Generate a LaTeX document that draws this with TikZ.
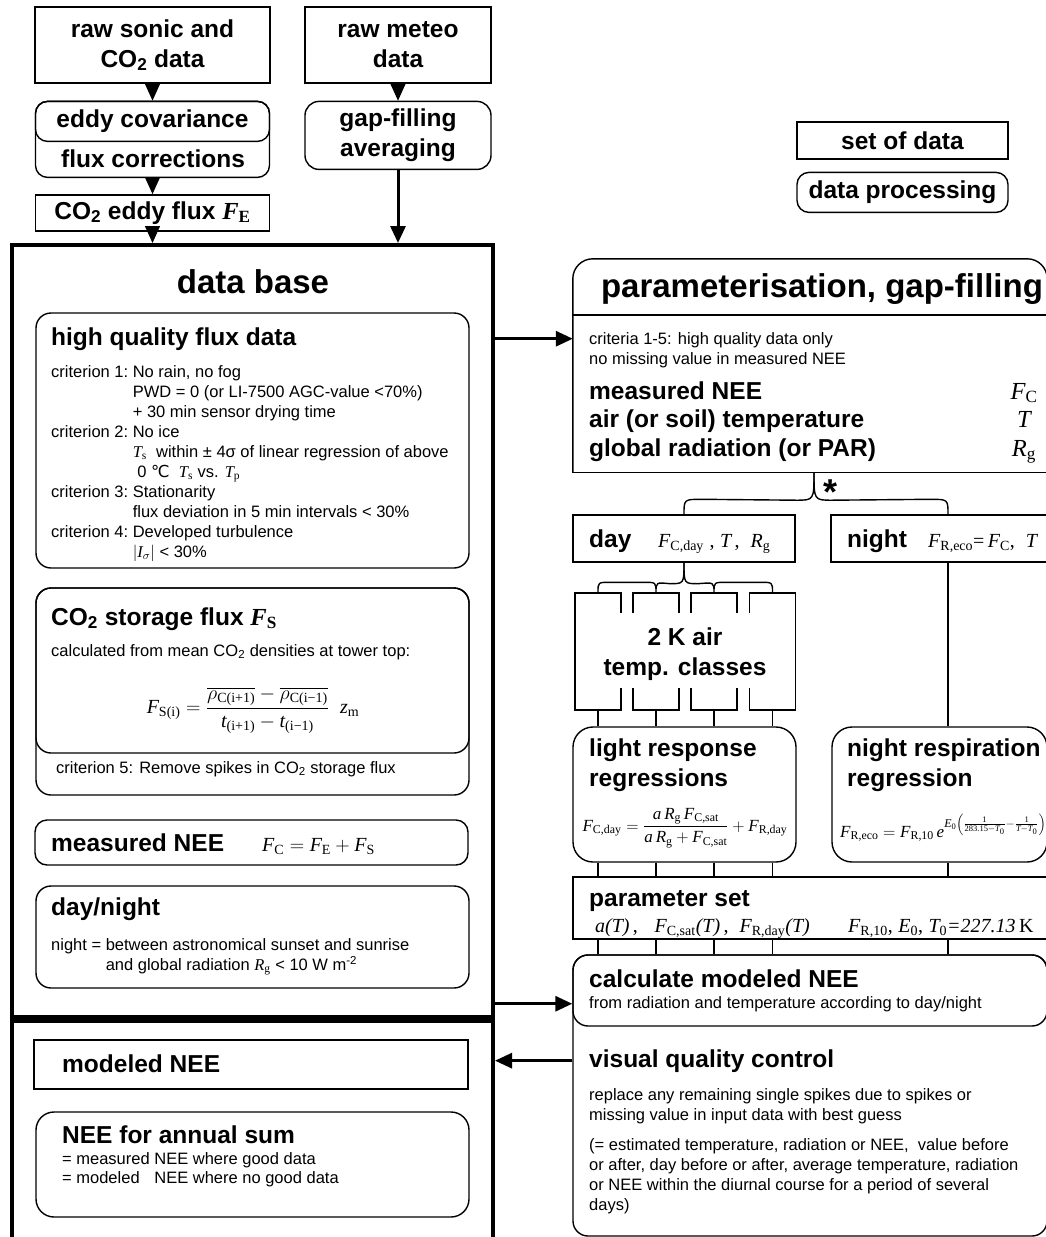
\RequirePackage{fix-cm}
\documentclass[tikz,border=0pt]{standalone}
\usepackage{amsmath}
\usepackage[no-math]{fontspec}
\setmainfont{Liberation Sans}
\newfontfamily\tms{Liberation Serif}
\newfontfamily\djv{DejaVu Sans}
\newcommand{\tmi}[1]{\text{\tms\itshape #1}}
\newcommand{\tmr}[1]{\text{\tms\upshape #1}}
\newcommand{\Fx}[1]{\tmi{F}_{\tmr{#1}}}
\usetikzlibrary{positioning, calc, arrows.meta}

\begin{document}
\begin{tikzpicture}[x=1pt, y=-1pt,
		dset/.style={draw, line width=1.4pt, inner sep=0pt},
		dproc/.style={dset, rounded corners=#1},
		dproc/.default=12pt,
		conn/.style={line width=1.4pt},
		arr/.style={conn, -{Triangle[length=17pt, width=15pt]}},
		bigarr/.style={arr, line width=3pt},
		ttl/.style={font=\fontsize{33}{36}\selectfont\bfseries, inner sep=0pt},
		hd/.style={font=\fontsize{24.5}{30}\selectfont\bfseries, inner sep=0pt},
		txt/.style={font=\fontsize{16.5}{20}\selectfont, inner sep=0pt},
		eq/.style={font=\fontsize{20}{24}\selectfont, inner sep=0pt}
		]
		\useasboundingbox (0,0) rectangle (1046,1237);
		
		% raw data
		\node[dset, hd, minimum width=235pt, minimum height=76pt, align=center] (rawsonic) at (152.5,45) {raw sonic and\\CO\textsubscript{2} data};
		\node[dproc, minimum width=234pt, minimum height=76pt, below=17pt of rawsonic] (corr) {};
		\node[dproc, hd, minimum width=234pt, minimum height=40pt, anchor=north] (eddy) at (corr.north) {eddy covariance};
		\node[hd, anchor=base] (corrtxt) at (153,167) {flux corrections};
		\node[dset, hd, minimum width=234pt, minimum height=36pt, below=16pt of corr] (fluxE) {CO\textsubscript{2} eddy flux {\tms\itshape F}\textsubscript{\tms E}};
		
		\node[dset, hd, minimum width=186pt, minimum height=76pt, align=center] (rawmeteo) at (398,45) {raw meteo\\data};
		\node[dproc=14pt, hd, minimum width=186pt, minimum height=68pt, align=center, below=17pt of rawmeteo] (gapfill) {gap-filling\\averaging};
		
		% legend
		\node[dset, hd, minimum width=211pt, minimum height=37pt] (setdata) at (902.5,140.5) {set of data};
		\node[dproc, hd, minimum width=211pt, minimum height=40pt, below=12pt of setdata] (dataproc) {data processing};
		
		% data base
		\node[dset, line width=4pt, minimum width=481pt, minimum height=772pt] (database) at (252.5,631) {};
		\node[dset, line width=4pt, minimum width=481pt, minimum height=253pt, below=0pt of database] (results) {};
		\node[ttl, anchor=base] (dbtitle) at (253,293) {data base};
		
		\node[dproc=15pt, minimum width=433pt, minimum height=255pt] (hq) at (252.5,440.5) {};
		\node[hd, anchor=base west] (hqtitle) at (51,345) {high quality flux data};
		\node[txt, anchor=base west] (hqcrit) at (51,377) {\begin{tabular}[t]{@{}l@{\ }l@{}}
				criterion 1: & No rain, no fog\\
				& PWD = 0 (or LI-7500 AGC-value <70\%)\\
				& + 30 min sensor drying time\\
				criterion 2: & No ice\\
				& $\tmi{T}_{\tmr{s}}$\ \ within ± 4σ of linear regression of above\\
				& \ 0 {\djv ℃}\ \ $\tmi{T}_{\tmr{s}}$ vs. $\tmi{T}_{\tmr{p}}$\\
				criterion 3: & Stationarity\\
				& flux deviation in 5 min intervals < 30\%\\
				criterion 4: & Developed turbulence\\
				& $|\tmi{I}_{\sigma}|$ < 30\%
		\end{tabular}};
		
		\node[dproc=15pt, minimum width=433pt, minimum height=207pt] (stor5) at (252.5,691.5) {};
		\node[dproc=15pt, minimum width=433pt, minimum height=165pt, anchor=north] (storage) at (stor5.north) {};
		\node[hd, anchor=base west] (stortitle) at (51,625) {CO\textsubscript{2} storage flux {\tms\itshape F}\textsubscript{\tms S}};
		\node[txt, anchor=base west] (storcalc) at (51,656) {calculated from mean CO\textsubscript{2} densities at tower top:};
		\node[eq] (storeq) at (253,710) {$\Fx{S(i)} = \dfrac{\overline{\rho_{\tmr{C(i+1)}}} - \overline{\rho_{\tmr{C(i−1)}}}}{\tmi{t}_{\tmr{(i+1)}} - \tmi{t}_{\tmr{(i−1)}}}\ \ \tmi{z}_{\tmr{m}}$};
		\node[txt, anchor=base west] (crit5) at (56,773) {criterion 5: Remove spikes in CO\textsubscript{2} storage flux};
		
		\node[dproc, minimum width=433pt, minimum height=45pt] (meas) at (251.5,842.5) {};
		\node[hd, anchor=base west] (meastitle) at (51,851) {measured NEE};
		\node[eq, anchor=base west] (measeq) at (262,851) {$\Fx{C} = \Fx{E} + \Fx{S}$};
		
		\node[dproc=15pt, minimum width=433pt, minimum height=102pt] (daynight) at (252.5,937) {};
		\node[hd, anchor=base west] (dntitle) at (51,915) {day/night};
		\node[txt, anchor=base west] (dnbody) at (51,950) {\begin{tabular}[t]{@{}l@{\ }l@{}}
				night = & between astronomical sunset and sunrise\\
				& and global radiation $\tmi{R}_{\tmr{g}}$ < 10 W m\textsuperscript{-2}
		\end{tabular}};
		
		% results
		\node[dset, minimum width=434pt, minimum height=49pt] (modeled) at (251,1064.5) {};
		\node[hd, anchor=base west] (modtitle) at (62,1072) {modeled NEE};
		\node[dproc=18pt, minimum width=433pt, minimum height=105pt] (annual) at (252.5,1164.5) {};
		\node[hd, anchor=base west] (anntitle) at (62,1143) {NEE for annual sum};
		\node[txt, font=\fontsize{16.5}{19}\selectfont, anchor=base west] (annbody) at (62,1164) {\begin{tabular}[t]{@{}l@{\ }l@{}}
				= measured & NEE where good data\\
				= modeled & NEE where no good data
		\end{tabular}};
		
		% parameterisation
		\node[inner sep=0pt, minimum width=474pt, minimum height=213pt] (param) at (810,365.5) {};
		\draw[conn, rounded corners=20pt] (param.south west) -- (param.north west) -- (param.north east) -- (param.south east);
		\draw[conn, line cap=rect] (param.south west) -- (param.south east);
		\draw[conn] ([yshift=-56pt]param.north west) -- ([yshift=-56pt]param.north east);
		\node[ttl, anchor=base] (paramtitle) at (822,297) {parameterisation, gap-filling};
		\node[txt, anchor=base west] (crit) at (589,344) {\begin{tabular}[t]{@{}l@{}}
				criteria 1-5: high quality data only\\
				no missing value in measured NEE
		\end{tabular}};
		\node[hd, font=\fontsize{24.5}{28.5}\selectfont\bfseries, anchor=base west] (inputs) at (589,399) {\begin{tabular}[t]{@{}l@{}}
				measured NEE\\
				air (or soil) temperature\\
				global radiation (or PAR)
		\end{tabular}};
		\node[inner sep=0pt, font=\fontsize{24.5}{28.5}\selectfont, anchor=base] (invars) at (1024,399) {\begin{tabular}[t]{@{}c@{}}
				$\Fx{C}$\\ $\tmi{T}$\\ $\tmi{R}_{\tmr{g}}$
		\end{tabular}};
		
		% day / night
		\node[dset, minimum width=222pt, minimum height=47pt] (day) at (684,538.5) {};
		\node[hd, anchor=base west] (daylbl) at (589,547) {day};
		\node[eq, anchor=base west] (dayvars) at (658,547) {$\Fx{C,day}\ \tmr{,}\ \tmi{T}\,\tmr{,}\ \ \tmi{R}_{\tmr{g}}$};
		\node[dset, minimum width=234pt, minimum height=47pt] (night) at (948,538.5) {};
		\node[hd, anchor=base west] (nightlbl) at (847,547) {night};
		\node[eq, anchor=base west] (nightvars) at (928,547) {$\Fx{R,eco}\tmr{=}\,\Fx{C}\tmr{,}\ \ \tmi{T}$};
		
		\coordinate (btip) at ([xshift=4pt]param.south);
		\draw[conn] (btip) .. controls ($(btip)+(0,28)$) .. ($(btip)+(-18,28)$) -- ($(day.north)+(18,-15)$) .. controls ($(day.north)+(0,-15)$) .. (day.north);
		\draw[conn] (btip) .. controls ($(btip)+(0,28)$) .. ($(btip)+(18,28)$) -- ($(night.north)+(-18,-15)$) .. controls ($(night.north)+(0,-15)$) .. (night.north);
		\node[font=\fontsize{36}{40}\selectfont\bfseries, inner sep=0pt, anchor=base] (star) at (830,504) {*};
		
		% temperature classes
		\foreach \i/\cx in {1/598,2/656,3/714,4/772.5}{
			\node[dset, minimum width=46pt, minimum height=117pt] (cls\i) at (\cx,651.5) {};
		}
		\fill[white] (619.5,613) rectangle (750.5,688);
		\node[hd, anchor=base] (clslbl) at (685,645) {\begin{tabular}[t]{@{}c@{}}2 K air\\temp. classes\end{tabular}};
		\draw[conn] (day.south) .. controls ($(day.south)+(0,21)$) .. ($(day.south)+(-14,21)$) .. controls ($(cls2.north)+(0,-10)$) .. (cls2.north)
		.. controls ($(cls2.north)+(0,-10)$) .. ($(cls2.north)+(-12,-10)$) -- ($(cls1.north)+(12,-10)$) .. controls ($(cls1.north)+(0,-10)$) .. (cls1.north);
		\draw[conn] (day.south) .. controls ($(day.south)+(0,21)$) .. ($(day.south)+(14,21)$) .. controls ($(cls3.north)+(0,-10)$) .. (cls3.north)
		.. controls ($(cls3.north)+(0,-10)$) .. ($(cls3.north)+(12,-10)$) -- ($(cls4.north)+(-12,-10)$) .. controls ($(cls4.north)+(0,-10)$) .. (cls4.north);
		
		% regressions
		\node[dproc=20pt, minimum width=223pt, minimum height=135pt] (light) at (684.5,794.5) {};
		\node[hd, anchor=base west] (lighttitle) at (589,756) {\begin{tabular}[t]{@{}l@{}}light response\\regressions\end{tabular}};
		\node[eq, font=\fontsize{17}{20}\selectfont] (lighteq) at (685,828) {$\Fx{C,day} = \dfrac{\tmi{a}\,\tmi{R}_{\tmr{g}}\,\Fx{C,sat}}{\tmi{a}\,\tmi{R}_{\tmr{g}} + \Fx{C,sat}} + \Fx{R,day}$};
		\node[dproc=20pt, minimum width=215pt, minimum height=135pt] (nightresp) at (939.5,794.5) {};
		\node[hd, anchor=base west] (nrtitle) at (847,756) {\begin{tabular}[t]{@{}l@{}}night respiration\\regression\end{tabular}};
		\node[eq, font=\fontsize{17}{20}\selectfont, anchor=base west] (nreq) at (840,837) {$\Fx{R,eco} = \Fx{R,10}\,\tmi{e}^{\tmi{E}_{\tmr{0}}\left(\frac{\tmr{1}}{\tmr{283.15}-\tmi{T}_{\tmr{0}}}-\frac{\tmr{1}}{\tmi{T}-\tmi{T}_{\tmr{0}}}\right)}$};
		
		% parameter set
		\node[dset, minimum width=492pt, minimum height=62pt] (pset) at (819,908) {};
		\node[hd, anchor=base west] (psettitle) at (589,906) {parameter set};
		\node[eq, anchor=base west] (psetday) at (595,932) {$\tmi{a(T)}\,\tmr{,}\ \ \ \Fx{C,sat}\tmi{(T)}\,\tmr{,}\ \ \Fx{R,day}\tmi{(T)}$};
		\node[eq, anchor=base west] (psetnight) at (848,932) {$\Fx{R,10}\tmr{,}\ \tmi{E}_{\tmr{0}}\tmr{,}\ \tmi{T}_{\tmr{0}}\tmi{=227.13}\,\tmr{K}$};
		
		% modeled NEE and quality control
		\node[dproc=15pt, minimum width=474pt, minimum height=281pt] (vqc) at (810,1095.5) {};
		\node[dproc=15pt, minimum width=474pt, minimum height=71pt, anchor=north] (calc) at (vqc.north) {};
		\node[hd, anchor=base west] (calctitle) at (589,987) {calculate modeled NEE};
		\node[txt, anchor=base west] (calcsub) at (589,1008) {from radiation and temperature according to day/night};
		\node[hd, anchor=base west] (vqctitle) at (589,1067) {visual quality control};
		\node[txt, anchor=base west] (vqcbody) at (589,1100) {\begin{tabular}[t]{@{}l@{}}
				replace any remaining single spikes due to spikes or\\
				missing value in input data with best guess\\[10pt]
				(= estimated temperature, radiation or NEE,\ \ value before\\
				or after, day before or after, average temperature, radiation\\
				or NEE within the diurnal course for a period of several\\
				days)
		\end{tabular}};
		
		% vertical links
		\foreach \i in {1,...,4}{
			\draw[conn] (cls\i.south) -- (cls\i.south |- light.north);
			\draw[conn] (cls\i.south |- light.south) -- (cls\i.south |- pset.north);
			\draw[conn] (cls\i.south |- pset.south) -- (cls\i.south |- calc.north);
		}
		\draw[conn] (night.south) -- (night.south |- nightresp.north);
		\draw[conn] (night.south |- nightresp.south) -- (night.south |- pset.north);
		\draw[conn] (night.south |- pset.south) -- (night.south |- calc.north);
		
		% arrows
		\draw[arr] (rawsonic.south) -- (eddy.north);
		\draw[arr] (corr.south) -- (fluxE.north);
		\draw[arr] (fluxE.south) -- (fluxE.south |- database.north);
		\draw[arr] (rawmeteo.south) -- (gapfill.north);
		\draw[bigarr] (gapfill.south) -- (gapfill.south |- database.north);
		\draw[bigarr] (database.east |- hqtitle) -- (param.west |- hqtitle);
		\draw[bigarr] (database.east |- calcsub) -- (calc.west |- calcsub);
		\draw[bigarr] (vqc.west |- vqctitle) -- (results.east |- vqctitle);
	\end{tikzpicture}
\end{document}
